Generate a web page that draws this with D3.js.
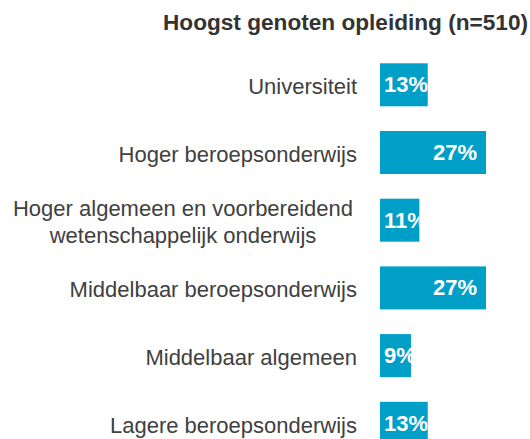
<!DOCTYPE html>
<html>
<head>
<meta charset="utf-8">
<script src="https://cdn.jsdelivr.net/npm/d3@7/dist/d3.min.js"></script>
<style>
  html, body { margin: 0; padding: 0; background: #fff; }
  svg { display: block; font-family: "Liberation Sans", Arial, sans-serif; }
</style>
</head>
<body>
<svg width="530" height="439"></svg>
<script>
var title = "Hoogst genoten opleiding (n=510)";
var categories = [
  ["Universiteit"],
  ["Hoger beroepsonderwijs"],
  ["Hoger algemeen en voorbereidend", "wetenschappelijk onderwijs"],
  ["Middelbaar beroepsonderwijs"],
  ["Middelbaar algemeen"],
  ["Lagere beroepsonderwijs"]
];
var values = [13, 27, 11, 27, 9, 13];

var svg = d3.select("svg");
var barLeft = 380;
var labelRight = 357;
var blue = "#009fc7";

var y = d3.scaleBand()
  .domain(d3.range(categories.length))
  .range([63.3, 444.8])
  .paddingInner(0.365)
  .paddingOuter(0);

// value axis starts a bit left of where the bars are drawn
var x = d3.scaleLinear().domain([0, 27]).range([373.6, 486]);

svg.append("text")
  .attr("x", 528)
  .attr("y", 30)
  .attr("text-anchor", "end")
  .attr("textLength", 365)
  .attr("lengthAdjust", "spacingAndGlyphs")
  .style("font-size", "22px")
  .style("font-weight", "bold")
  .style("fill", "#333")
  .text(title);

var defs = svg.append("defs");

var rows = svg.selectAll("g.row")
  .data(values)
  .enter().append("g")
  .attr("class", "row");

rows.each(function(v, i) {
  var g = d3.select(this);
  var top = y(i), h = y.bandwidth(), cy = top + h / 2;
  var w = x(v) - barLeft;

  defs.append("clipPath").attr("id", "clip" + i)
    .append("rect")
    .attr("x", barLeft).attr("y", top)
    .attr("width", w).attr("height", h);

  g.append("rect")
    .attr("x", barLeft).attr("y", top)
    .attr("width", w).attr("height", h)
    .style("fill", blue);

  var t = g.append("text")
    .attr("clip-path", "url(#clip" + i + ")")
    .attr("y", cy + 7.5)
    .style("font-size", "22px")
    .style("font-weight", "bold")
    .style("fill", "#fff")
    .text(v + "%");
  var tw = t.node().getComputedTextLength();
  t.attr("x", Math.max(barLeft + 4, barLeft + w - 9 - tw));

  // category label, lines centered within a right aligned block
  var lines = categories[i];
  var lab = g.append("g");
  var texts = lines.map(function(s, k) {
    return lab.append("text")
      .attr("y", cy + 9.5 + (k - (lines.length - 1) / 2) * 27)
      .attr("text-anchor", "middle")
      .style("font-size", "22px")
      .style("fill", "#404040")
      .text(s);
  });
  var maxW = d3.max(texts, function(t) { return t.node().getComputedTextLength(); });
  var right = lines.length > 1 ? labelRight - 4 : labelRight;
  texts.forEach(function(t) { t.attr("x", right - maxW / 2); });
});
</script>
</body>
</html>
